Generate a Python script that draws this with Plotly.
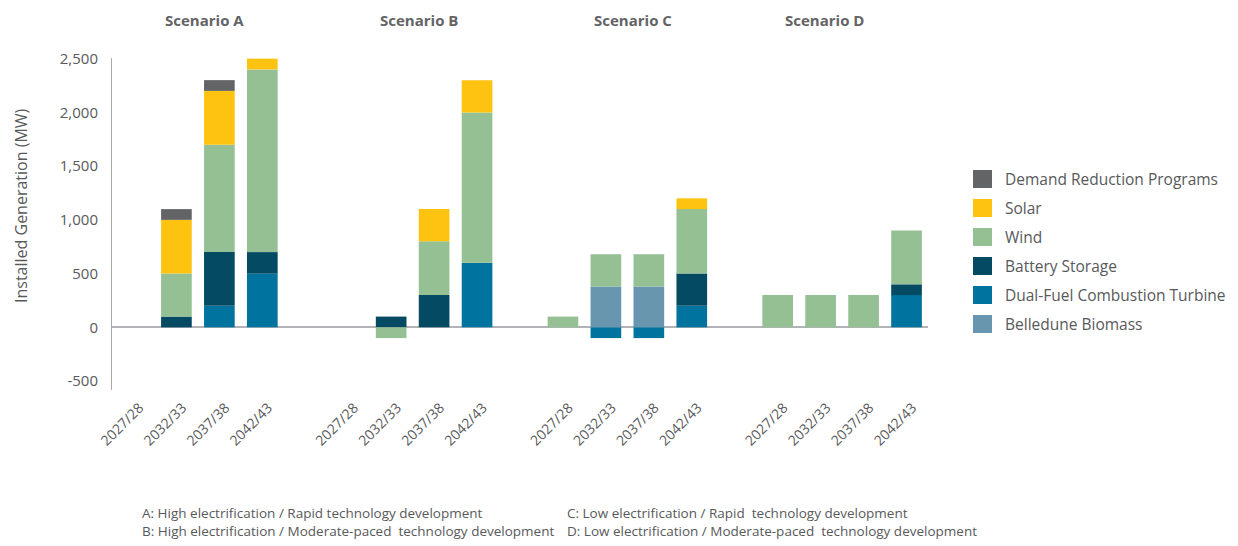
import plotly.graph_objects as go

# Study periods and scenarios
periods = ["2027/28", "2032/33", "2037/38", "2042/43"]
scenarios = ["Scenario A", "Scenario B", "Scenario C", "Scenario D"]

# Installed generation additions (MW), four periods per scenario, A -> D
belledune_biomass = [0, 0, 0, 0,    0, 0, 0, 0,       0, 380, 380, 0,   0, 0, 0, 0]
dual_fuel_ct      = [0, 0, 200, 500, 0, 0, 0, 600,    0, -100, -100, 200, 0, 0, 0, 300]
battery_storage   = [0, 100, 500, 200, 0, 100, 300, 0, 0, 0, 0, 300,    0, 0, 0, 100]
wind              = [0, 400, 1000, 1700, 0, -100, 500, 1400, 100, 300, 300, 600, 300, 300, 300, 500]
solar             = [0, 500, 500, 100, 0, 0, 300, 300, 0, 0, 0, 100,   0, 0, 0, 0]
demand_reduction  = [0, 100, 100, 0, 0, 0, 0, 0,      0, 0, 0, 0,       0, 0, 0, 0]

y_ticks = [-500, 0, 500, 1000, 1500, 2000, 2500]
y_tick_text = ["-500", "0", "500", "1,000", "1,500", "2,000", "2,500"]

footnotes = [
    "A: High electrification / Rapid technology development",
    "B: High electrification / Moderate-paced  technology development",
    "C: Low electrification / Rapid  technology development",
    "D: Low electrification / Moderate-paced  technology development",
]

# Stack order bottom -> top
series = [
    ("Belledune Biomass", belledune_biomass, "#6796AE"),
    ("Dual-Fuel Combustion Turbine", dual_fuel_ct, "#00739F"),
    ("Battery Storage", battery_storage, "#034A62"),
    ("Wind", wind, "#94C093"),
    ("Solar", solar, "#FEC310"),
    ("Demand Reduction Programs", demand_reduction, "#636466"),
]

GROUP_STRIDE = len(periods) + 1  # one empty slot between scenarios
xpos = [g * GROUP_STRIDE + p for g in range(len(scenarios)) for p in range(len(periods))]
xlabels = [periods[p] for g in range(len(scenarios)) for p in range(len(periods))]

TXT = "#58595B"
FONT = "Open Sans"

fig = go.Figure()
for name, vals, color in series:
    fig.add_trace(go.Bar(
        x=xpos, y=vals, name=name,
        marker=dict(color=color, line=dict(width=0)),
        showlegend=False,
    ))

fig.update_layout(
    width=1238, height=546,
    margin=dict(l=112, r=310, t=58, b=156),
    paper_bgcolor="white", plot_bgcolor="white",
    barmode="relative", bargap=0.286,
    font=dict(family=FONT, color=TXT, size=15),
    xaxis=dict(
        range=[-0.5, xpos[-1] + 0.5],
        tickmode="array", tickvals=xpos, ticktext=xlabels,
        tickangle=-45, showline=False, showgrid=False, zeroline=False,
        ticks="", ticklabelshift=6, ticklabelstandoff=6,
        tickfont=dict(size=14, color=TXT, family=FONT),
    ),
    yaxis=dict(
        range=[-583, 2506],
        tickmode="array", tickvals=y_ticks, ticktext=y_tick_text,
        showgrid=False,
        showline=True, linecolor="#A7A9AC", linewidth=1,
        zeroline=True, zerolinecolor="#B1B3B6", zerolinewidth=2,
        ticks="", ticklabelstandoff=10,
        tickfont=dict(size=15, color=TXT, family=FONT),
    ),
)

plot_w, plot_h, plot_l, plot_b = 816, 332, 112, 390
def px_x(px):
    return (px - plot_l) / plot_w
def px_y(py):
    return (plot_b - py) / plot_h

# Y axis title
fig.add_annotation(
    text="Installed Generation (MW)", xref="paper", yref="paper",
    x=px_x(21), y=px_y(206), textangle=-90, showarrow=False,
    xanchor="center", yanchor="middle",
    font=dict(size=16, color=TXT, family=FONT),
)

# Scenario headers
for name, xc in zip(scenarios, [1.65, 6.65, 11.63, 16.1]):
    fig.add_annotation(
        text=f"<b>{name}</b>", xref="x", yref="paper", x=xc, y=px_y(20),
        showarrow=False, xanchor="center", yanchor="middle",
        font=dict(size=15, color="#636466", family=FONT),
    )

# Legend (top entry = top of stack)
for i, (name, vals, color) in enumerate(reversed(series)):
    cy = 179 + 29 * i
    fig.add_shape(
        type="rect", xref="paper", yref="paper",
        x0=px_x(973), x1=px_x(992), y0=px_y(cy + 9), y1=px_y(cy - 9),
        fillcolor=color, line=dict(width=0),
    )
    fig.add_annotation(
        text=name, xref="paper", yref="paper", x=px_x(1003), y=px_y(cy),
        xanchor="left", yanchor="middle", showarrow=False,
        font=dict(size=15.5, color=TXT, family=FONT),
    )

# Scenario descriptions
for note, (fx, fy) in zip(footnotes, [(140, 513), (140, 531), (565, 513), (565, 531)]):
    fig.add_annotation(
        text=note, xref="paper", yref="paper", x=px_x(fx), y=px_y(fy),
        xanchor="left", yanchor="middle", showarrow=False,
        font=dict(size=13.5, color=TXT, family=FONT),
    )

fig.write_html("out.html")
